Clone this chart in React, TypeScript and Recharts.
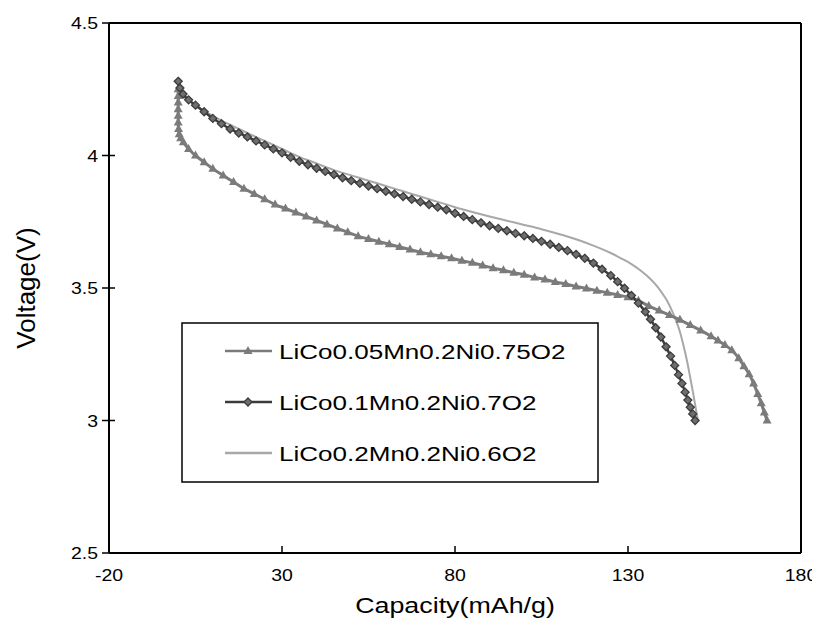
import { LineChart, Line, XAxis, YAxis, ReferenceLine } from "recharts";

const FONT = '"Liberation Sans", Arial, Helvetica, sans-serif';

const xTicks = [-20, 30, 80, 130, 180];
const yTicks = [2.5, 3, 3.5, 4, 4.5];

const seriesNames = ["LiCo0.05Mn0.2Ni0.75O2", "LiCo0.1Mn0.2Ni0.7O2", "LiCo0.2Mn0.2Ni0.6O2"];

// LiCo0.05Mn0.2Ni0.75O2 (triangles)
const s1Cap = [
  0, 0, 0, 0, 0, 0, 0.1, 0.3, 0.7, 1.5, 3, 5, 7.5, 10, 13, 16, 19, 22, 25, 28, 31, 34, 37, 40, 43,
  46, 49, 52, 55, 58, 61, 64, 67, 70, 73, 76, 79, 82, 85, 88, 91, 94, 97, 100, 103, 106, 109, 112,
  115, 118, 121, 124, 127, 130, 133, 136, 139, 142, 145, 148, 151, 154, 156, 158, 160, 162, 163.5,
  165, 166.3, 167.5, 168.5, 169.4, 170.2,
];
const s1Volt = [
  4.25, 4.225, 4.2, 4.175, 4.15, 4.125, 4.1, 4.08, 4.065, 4.05, 4.025, 4.0, 3.975, 3.95, 3.925, 3.9,
  3.875, 3.855, 3.835, 3.815, 3.8, 3.785, 3.77, 3.755, 3.74, 3.725, 3.71, 3.695, 3.685, 3.675, 3.665,
  3.655, 3.645, 3.635, 3.627, 3.62, 3.612, 3.603, 3.595, 3.585, 3.575, 3.567, 3.558, 3.55, 3.54,
  3.532, 3.523, 3.515, 3.506, 3.498, 3.49, 3.482, 3.474, 3.465, 3.452, 3.432, 3.415, 3.398, 3.38,
  3.36, 3.34, 3.318, 3.302, 3.285, 3.265, 3.235, 3.205, 3.175, 3.14, 3.1, 3.065, 3.03, 3.0,
];

// LiCo0.1Mn0.2Ni0.7O2 (diamonds)
const s2Cap = [
  0, 0.5, 1.4, 3, 5, 7.5, 10, 12.5, 15, 17.5, 20, 22.5, 25, 27.5, 30, 32.5, 35, 37.5, 40, 42.5, 45,
  47.5, 50, 52.5, 55, 57.5, 60, 62.5, 65, 67.5, 70, 72.5, 75, 77.5, 80, 82.5, 85, 87.5, 90, 92.5, 95,
  97.5, 100, 102.5, 105, 107.5, 110, 112.5, 115, 117.5, 120, 122.5, 125, 127, 129, 131, 133, 135,
  136.5, 138, 139.5, 141, 142.3, 143.5, 144.6, 145.6, 146.5, 147.3, 148, 148.7, 149.4,
];
const s2Volt = [
  4.28, 4.255, 4.232, 4.21, 4.19, 4.165, 4.14, 4.12, 4.1, 4.085, 4.07, 4.055, 4.04, 4.025, 4.01,
  3.993, 3.978, 3.965, 3.952, 3.94, 3.928, 3.916, 3.905, 3.895, 3.885, 3.875, 3.865, 3.855, 3.845,
  3.835, 3.825, 3.815, 3.805, 3.795, 3.782, 3.77, 3.758, 3.746, 3.735, 3.725, 3.716, 3.706, 3.697,
  3.687, 3.676, 3.665, 3.653, 3.641, 3.627, 3.612, 3.594, 3.571, 3.547, 3.524, 3.499, 3.472, 3.443,
  3.41, 3.382, 3.35, 3.315, 3.278, 3.243, 3.208, 3.173, 3.14, 3.107, 3.077, 3.05, 3.025, 3.0,
];

// LiCo0.2Mn0.2Ni0.6O2 (plain line)
const s3Cap = [
  0, 0.5, 1.5, 4, 8, 12, 16, 20, 25, 30, 35, 40, 45, 50, 55, 60, 65, 70, 75, 80, 85, 90, 95, 100,
  105, 110, 115, 120, 125, 128, 131, 134, 136.4, 138.5, 140, 141.3, 142.5, 143.8, 145, 146, 147,
  147.9, 148.8, 149.5, 150.2,
];
const s3Volt = [
  4.27, 4.245, 4.225, 4.2, 4.165, 4.135, 4.11, 4.085, 4.055, 4.025, 3.995, 3.97, 3.945, 3.925, 3.905,
  3.885, 3.865, 3.845, 3.825, 3.805, 3.787, 3.77, 3.754, 3.738, 3.722, 3.704, 3.684, 3.66, 3.632,
  3.612, 3.59, 3.562, 3.535, 3.505, 3.478, 3.452, 3.42, 3.38, 3.335, 3.285, 3.228, 3.168, 3.105,
  3.052, 3.0,
];

const colors = ["#7b7b7b", "#3c3c3c", "#a8a8a8"];

const toRows = (cap: number[], volt: number[]) => cap.map((c, i) => ({ cap: c, volt: volt[i] }));

function SText({ x, y, size, sx = 1.2, anchor = "start", rotate = 0, children }: any) {
  return (
    <text
      transform={`translate(${x},${y}) rotate(${rotate}) scale(${sx},1)`}
      fontSize={size}
      fontFamily={FONT}
      textAnchor={anchor}
      fill="#000"
    >
      {children}
    </text>
  );
}

const XTick = (props: any) => {
  const { x, y, payload } = props;
  return (
    <g>
      <line x1={x} x2={x} y1={y} y2={y - 7} stroke="#000" strokeWidth={1.5} />
      <SText x={x} y={y + 28} size={16.5} sx={1.18} anchor="middle">
        {String(payload.value)}
      </SText>
    </g>
  );
};

const YTick = (props: any) => {
  const { x, y, payload } = props;
  return (
    <g>
      <line x1={x - 7} x2={x + 6} y1={y} y2={y} stroke="#000" strokeWidth={1.5} />
      <SText x={x - 11} y={y + 6} size={16.5} sx={1.18} anchor="end">
        {String(payload.value)}
      </SText>
    </g>
  );
};

const triangle = (p: any) => {
  const { cx, cy, index } = p;
  return (
    <path
      key={`t${index}`}
      d={`M${cx},${cy - 5} L${cx + 4.5},${cy + 3} L${cx - 4.5},${cy + 3} Z`}
      fill={colors[0]}
    />
  );
};

const diamond = (p: any) => {
  const { cx, cy, index } = p;
  return (
    <path
      key={`d${index}`}
      d={`M${cx},${cy - 4} L${cx + 4},${cy} L${cx},${cy + 4} L${cx - 4},${cy} Z`}
      fill="#6e6e6e"
      stroke={colors[1]}
      strokeWidth={1.3}
    />
  );
};

const XTitle = (props: any) => {
  const vb = props.viewBox;
  return (
    <SText x={vb.x + vb.width / 2} y={vb.y + 60} size={22} sx={1.22} anchor="middle">
      Capacity(mAh/g)
    </SText>
  );
};

const YTitle = (props: any) => {
  const vb = props.viewBox;
  return (
    <SText x={vb.x - 14} y={vb.y + vb.height / 2} size={26} sx={1} rotate={-90} anchor="middle">
      Voltage(V)
    </SText>
  );
};

function LegendBox() {
  const rows = [343, 394, 445];
  return (
    <svg
      width={812}
      height={614}
      style={{ position: "absolute", left: 0, top: 0, pointerEvents: "none" }}
    >
      <rect x={174} y={315} width={416} height={159} fill="#fff" stroke="#000" strokeWidth={1.5} />
      {seriesNames.map((name, i) => (
        <g key={name}>
          <line x1={217} x2={264} y1={rows[i]} y2={rows[i]} stroke={colors[i]} strokeWidth={2.5} />
          {i === 0 && triangle({ cx: 240, cy: rows[i], index: "leg" })}
          {i === 1 && diamond({ cx: 240, cy: rows[i], index: "leg" })}
          <SText x={271} y={rows[i] + 7.5} size={21} sx={1.24}>
            {name}
          </SText>
        </g>
      ))}
    </svg>
  );
}

export default function App() {
  return (
    <div style={{ position: "relative", width: 812, height: 614, background: "#fff" }}>
      <LineChart width={812} height={614} margin={{ top: 15, right: 19, bottom: 9, left: 41 }}>
        <XAxis
          type="number"
          dataKey="cap"
          domain={[-20, 180]}
          ticks={xTicks}
          allowDataOverflow
          height={60}
          tickSize={0}
          tickMargin={0}
          tickLine={false}
          axisLine={{ stroke: "#000", strokeWidth: 2 }}
          tick={<XTick />}
          label={<XTitle />}
        />
        <YAxis
          type="number"
          dataKey="volt"
          domain={[2.5, 4.5]}
          ticks={yTicks}
          allowDataOverflow
          width={60}
          tickSize={0}
          tickMargin={0}
          tickLine={false}
          axisLine={{ stroke: "#000", strokeWidth: 2 }}
          tick={<YTick />}
          label={<YTitle />}
        />
        <ReferenceLine y={4.5} stroke="#000" strokeWidth={2} />
        <ReferenceLine x={180} stroke="#000" strokeWidth={2} />
        <Line
          data={toRows(s3Cap, s3Volt)}
          dataKey="volt"
          type="monotone"
          stroke={colors[2]}
          strokeWidth={2}
          dot={false}
          isAnimationActive={false}
        />
        <Line
          data={toRows(s1Cap, s1Volt)}
          dataKey="volt"
          type="monotone"
          stroke={colors[0]}
          strokeWidth={3}
          dot={triangle}
          isAnimationActive={false}
        />
        <Line
          data={toRows(s2Cap, s2Volt)}
          dataKey="volt"
          type="monotone"
          stroke={colors[1]}
          strokeWidth={2.5}
          dot={diamond}
          isAnimationActive={false}
        />
      </LineChart>
      <LegendBox />
    </div>
  );
}
